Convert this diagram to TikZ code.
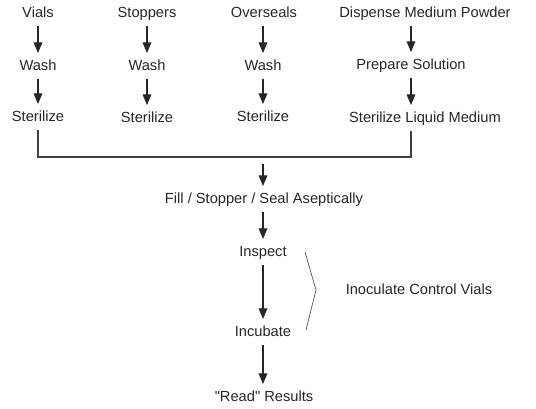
\documentclass[tikz,border=0pt]{standalone}
\usepackage{fontspec}
\setmainfont{Liberation Sans}[Ligatures=TeXOff]
\usetikzlibrary{arrows.meta}

\begin{document}
\begin{tikzpicture}[
    x=0.75pt, y=-0.75pt,
    stage/.style={inner xsep=2pt, inner ysep=4.5pt, text height=8.5pt, text depth=1.5pt,
                  font=\fontsize{11}{13}\selectfont, text=black!85},
    arr/.style={-{Triangle[length=8pt, width=6.5pt]}, line width=0.8pt, black!85},
    mergeline/.style={line width=0.8pt, black!75},
    bracket/.style={line width=0.5pt, black!70},
]
\useasboundingbox (0,0) rectangle (536,409);

% Vials
\node[stage] (vials) at (38,13) {Vials};
\node[stage] (wash1) at (38,66) {Wash};
\node[stage] (ster1) at (38,117) {Sterilize};

% Stoppers
\node[stage] (stop) at (147,13) {Stoppers};
\node[stage] (wash2) at (147,66) {Wash};
\node[stage] (ster2) at (147,118) {Sterilize};

% Overseals
\node[stage] (over) at (264,13) {Overseals};
\node[stage] (wash3) at (263,66) {Wash};
\node[stage] (ster3) at (263,117) {Sterilize};

% Medium
\node[stage] (dmp) at (425,13) {Dispense Medium Powder};
\node[stage] (prep) at (411,65) {Prepare Solution};
\node[stage] (slm) at (425,118) {Sterilize Liquid Medium};

% Main line
\node[stage] (fill) at (264,199) {Fill / Stopper / Seal Aseptically};
\node[stage] (insp) at (263,252) {Inspect};
\node[stage] (incu) at (263,332) {Incubate};
\node[stage] (read) at (264,397) {"Read" Results};
\node[stage] (inoc) at (419,290) {Inoculate Control Vials};

\coordinate (merge) at (263,157);
\coordinate (fillin) at (263,164);
\coordinate (brtop) at (305,252);
\coordinate (brtip) at (316,290);
\coordinate (brbot) at (306,330);

% Column arrows
\draw[arr] (vials) -- (wash1);
\draw[arr] (wash1) -- (ster1);
\draw[arr] (stop) -- (wash2);
\draw[arr] (wash2) -- (ster2);
\draw[arr] (over.south -| wash3) -- (wash3);
\draw[arr] (wash3) -- (ster3);
\draw[arr] (dmp.south -| prep) -- (prep);
\draw[arr] (prep) -- (slm.north -| prep);

% Merge
\draw[mergeline] (ster1.south) |- (merge) -| (slm.south -| prep);

% Main arrows
\draw[arr] (fillin) -- (fill.north -| fillin);
\draw[arr] (fill.south -| insp) -- (insp);
\draw[arr] (insp) -- (incu);
\draw[arr] (incu) -- (read.north -| incu);

% Control vials
\draw[bracket] (brtop) -- (brtip) -- (brbot);

\end{tikzpicture}
\end{document}
